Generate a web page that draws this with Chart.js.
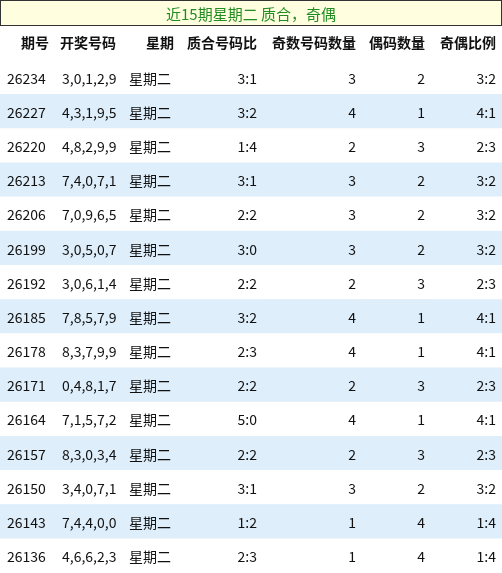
<!DOCTYPE html>
<html><head><meta charset="utf-8">
<script src="https://cdn.jsdelivr.net/npm/chart.js@4"></script>
<style>body{margin:0;background:#fff}#wrap{width:502px;height:573px}</style>
</head><body><div id="wrap"><canvas id="c"></canvas></div>
<script>
// ----- data -----
const title = "近15期星期二 质合，奇偶";
const headers = ["期号", "开奖号码", "星期", "质合号码比", "奇数号码数量", "偶码数量", "奇偶比例"];
const issues = ["26234","26227","26220","26213","26206","26199","26192","26185","26178","26171","26164","26157","26150","26143","26136"];
const numbers = ["3,0,1,2,9","4,3,1,9,5","4,8,2,9,9","7,4,0,7,1","7,0,9,6,5","3,0,5,0,7","3,0,6,1,4","7,8,5,7,9","8,3,7,9,9","0,4,8,1,7","7,1,5,7,2","8,3,0,3,4","3,4,0,7,1","7,4,4,0,0","4,6,6,2,3"];
const weekday = "星期二";
const primeRatio = ["3:1","3:2","1:4","3:1","2:2","3:0","2:2","3:2","2:3","2:2","5:0","2:2","3:1","1:2","2:3"];
const oddCount = [3,4,2,3,3,3,2,4,4,2,4,2,3,1,1];
const evenCount = [2,1,3,2,2,2,3,1,1,3,1,3,2,4,4];
const oddEven = ["3:2","4:1","2:3","3:2","3:2","3:2","2:3","4:1","4:1","2:3","4:1","2:3","3:2","1:4","1:4"];

// column edges (x scale units = px)
const colEdges = [0, 55, 122, 180, 263, 362, 431, 502];
const countColors = {1: "#fbb4aa", 2: "#dccbe5", 3: "#e6d9bc", 4: "#f0f0f0"};

const rowLabels = ["h"].concat(issues);
const rowBg = rowLabels.map((r, i) => i > 0 && i % 2 == 0 ? "#deeefa" : "#ffffff");

const tablePlugin = {
    id: "tableText",
    afterDatasetsDraw(chart) {
        const ctx = chart.ctx, x = chart.scales.x, y = chart.scales.y;
        // title bar
        ctx.save();
        ctx.fillStyle = "#ffffe0";
        ctx.fillRect(0.5, 0.5, 501, 25);
        ctx.strokeStyle = "#333";
        ctx.strokeRect(0.5, 0.5, 501, 25);
        ctx.fillStyle = "#228b22";
        ctx.font = "15px 'Noto Sans CJK SC', sans-serif";
        ctx.textAlign = "center";
        ctx.textBaseline = "middle";
        ctx.fillText(title, 251, 14);

        ctx.fillStyle = "#111";
        const right = (s, c, yy) => { ctx.textAlign = "right"; ctx.fillText(s, x.getPixelForValue(colEdges[c+1]) - 6, yy); };
        const left = (s, c, yy) => { ctx.textAlign = "left"; ctx.fillText(s, x.getPixelForValue(colEdges[c]) + 7, yy); };
        ctx.font = "bold 14px 'Noto Sans CJK SC', sans-serif";
        const hy = y.getPixelForValue(0);
        headers.forEach((h, c) => right(h, c, hy));
        ctx.font = "14px 'Noto Sans CJK SC', sans-serif";
        issues.forEach((id, i) => {
            const yy = y.getPixelForValue(i + 1) + 1;
            left(id, 0, yy);
            left(numbers[i], 1, yy);
            left(weekday, 2, yy);
            right(primeRatio[i], 3, yy);
            right(String(oddCount[i]), 4, yy);
            right(String(evenCount[i]), 5, yy);
            right(oddEven[i], 6, yy);
        });
        ctx.restore();
    }
};

new Chart(document.getElementById("c"), {
    type: "bar",
    data: {
        labels: rowLabels,
        datasets: [
            { data: rowLabels.map(() => [colEdges[0], colEdges[7]]), backgroundColor: rowBg },
            { data: [[0, 0]].concat(oddCount.map(() => [colEdges[4], colEdges[5]])), backgroundColor: ["#fff"].concat(oddCount.map(v => countColors[v])) },
            { data: [[0, 0]].concat(evenCount.map(() => [colEdges[5], colEdges[6]])), backgroundColor: ["#fff"].concat(evenCount.map(v => countColors[v])) }
        ]
    },
    options: {
        indexAxis: "y",
        responsive: true, maintainAspectRatio: false, animation: false,
        layout: { padding: { top: 26, left: 0, right: 0, bottom: 0 } },
        datasets: { bar: { barPercentage: 1, categoryPercentage: 1, grouped: false, borderWidth: 0 } },
        scales: {
            x: { type: "linear", min: 0, max: 502, display: false },
            y: { type: "category", offset: true, display: false }
        },
        plugins: { legend: { display: false }, tooltip: { enabled: false } }
    },
    plugins: [tablePlugin]
});
</script></body></html>
